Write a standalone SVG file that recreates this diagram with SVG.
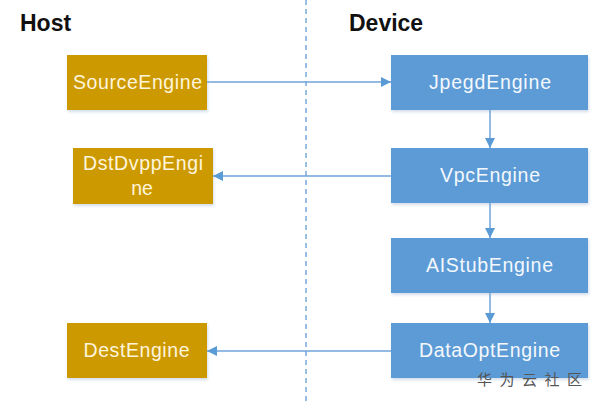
<svg xmlns="http://www.w3.org/2000/svg" width="597" height="404" viewBox="0 0 597 404">
<style>
.title{font-family:"Liberation Sans",Arial,sans-serif;font-weight:bold;font-size:23px;fill:#111}
.host rect{fill:#CC9A06}
.dev rect{fill:#5B9BD5}
.lbl{font-family:"Liberation Sans",Arial,sans-serif;font-size:19.5px;text-anchor:middle}
.host .lbl{fill:#FFF4DC}
.dev .lbl{fill:#F4F8FD}
.conn line{stroke:#6FA3D8;stroke-width:1.5;fill:none}
.wm{font-family:"Noto Sans CJK SC",sans-serif;font-size:15px;fill:#555;letter-spacing:7.5px}
</style>
<defs>
<marker id="ah" viewBox="0 0 10 10" refX="10" refY="5" markerWidth="10" markerHeight="10" markerUnits="userSpaceOnUse" orient="auto">
<path d="M0,0 L10,5 L0,10 z" fill="#5B9BD5"/>
</marker>
<filter id="sh" x="-10%" y="-10%" width="125%" height="130%">
<feDropShadow dx="1" dy="2" stdDeviation="1.5" flood-color="#9fb6d0" flood-opacity="0.45"/>
</filter>
</defs>
<rect width="597" height="404" fill="#fff"/>
<text class="title" x="20" y="31">Host</text>
<text class="title" x="349" y="31">Device</text>
<line x1="306" y1="0" x2="306" y2="404" stroke="#7AA9DA" stroke-width="1.5" stroke-dasharray="5,4"/>
<g id="SourceEngine" class="host"><rect x="67" y="55" width="140" height="55" filter="url(#sh)"/><text class="lbl" x="137.5" y="89" textLength="129" lengthAdjust="spacing">SourceEngine</text></g>
<g id="DstDvppEngine" class="host"><rect x="73" y="148" width="140" height="56" filter="url(#sh)"/><text class="lbl" x="143" y="170" textLength="120" lengthAdjust="spacing">DstDvppEngi</text><text class="lbl" x="142" y="195">ne</text></g>
<g id="DestEngine" class="host"><rect x="67" y="323" width="140" height="55" filter="url(#sh)"/><text class="lbl" x="136.5" y="357" textLength="106" lengthAdjust="spacing">DestEngine</text></g>
<g id="JpegdEngine" class="dev"><rect x="391" y="55" width="197" height="55" filter="url(#sh)"/><text class="lbl" x="490" y="89" textLength="122" lengthAdjust="spacing">JpegdEngine</text></g>
<g id="VpcEngine" class="dev"><rect x="391" y="148" width="197" height="55" filter="url(#sh)"/><text class="lbl" x="490" y="182" textLength="100" lengthAdjust="spacing">VpcEngine</text></g>
<g id="AIStubEngine" class="dev"><rect x="391" y="238" width="197" height="55" filter="url(#sh)"/><text class="lbl" x="489.5" y="272" textLength="127" lengthAdjust="spacing">AIStubEngine</text></g>
<g id="DataOptEngine" class="dev"><rect x="391" y="323" width="197" height="55" filter="url(#sh)"/><text class="lbl" x="489.5" y="357" textLength="141" lengthAdjust="spacing">DataOptEngine</text></g>
<g id="connectors" class="conn">
<line x1="207" y1="82" x2="391" y2="82" marker-end="url(#ah)"/>
<line x1="391" y1="176" x2="213" y2="176" marker-end="url(#ah)"/>
<line x1="391" y1="351" x2="207" y2="351" marker-end="url(#ah)"/>
<line x1="490" y1="110" x2="490" y2="148" marker-end="url(#ah)"/>
<line x1="490" y1="203" x2="490" y2="238" marker-end="url(#ah)"/>
<line x1="490" y1="293" x2="490" y2="323" marker-end="url(#ah)"/>
</g>
<text class="wm" x="477" y="385">华为云社区</text>
</svg>
